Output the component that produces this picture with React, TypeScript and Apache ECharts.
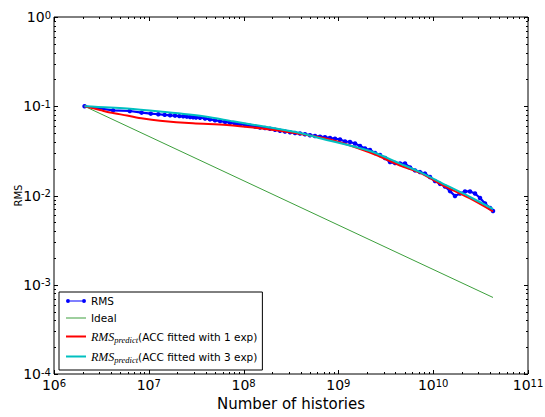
import React, { useEffect, useRef } from 'react';
import * as echarts from 'echarts';

// ---- data ----
const rmsHistories = [
  2.1e6, 4.2e6, 6.3e6, 8.4e6, 1.05e7, 1.26e7, 1.47e7, 1.68e7, 1.89e7, 2.1e7, 2.31e7, 2.52e7, 2.73e7, 2.94e7, 3.15e7,
  3.47e7, 3.92e7, 4.42e7, 4.99e7, 5.64e7, 6.37e7, 7.19e7, 8.12e7, 9.16e7, 1.035e8, 1.168e8, 1.319e8, 1.489e8,
  1.681e8, 1.899e8, 2.144e8, 2.421e8, 2.733e8, 3.087e8, 3.485e8, 3.935e8, 4.443e8, 5.017e8, 5.665e8, 6.396e8,
  7.222e8, 8.154e8, 9.207e8, 1.04e9, 1.174e9, 1.325e9, 1.497e9, 1.69e9, 1.908e9, 2.154e9, 2.433e9, 2.747e9,
  3.101e9, 3.502e9, 3.954e9, 4.465e9, 5.041e9, 5.692e9, 6.427e9, 7.257e9, 8.194e9, 9.252e9, 1.045e10, 1.18e10,
  1.332e10, 1.504e10, 1.698e10, 1.918e10, 2.165e10, 2.445e10, 2.761e10, 3.117e10, 3.52e10, 3.974e10, 4.274e10,
];
const rmsValues = [
  0.1, 0.09, 0.0885, 0.0848, 0.0826, 0.0813, 0.0801, 0.0792, 0.0785, 0.0776, 0.0771, 0.0765, 0.0758, 0.0752, 0.0748,
  0.0744, 0.0729, 0.0712, 0.0698, 0.0682, 0.0668, 0.0654, 0.0639, 0.0628, 0.0617, 0.0604, 0.0592, 0.0579,
  0.0571, 0.0559, 0.0545, 0.0532, 0.0521, 0.0511, 0.0502, 0.0495, 0.0485, 0.0474, 0.0464, 0.0456,
  0.045, 0.0441, 0.0433, 0.0424, 0.0403, 0.0398, 0.0382, 0.0359, 0.0336, 0.0323, 0.0299, 0.0284,
  0.0263, 0.0237, 0.0231, 0.0228, 0.0228, 0.0206, 0.0191, 0.0183, 0.0176, 0.0161, 0.0145, 0.0135,
  0.0126, 0.0112, 0.00987, 0.01053, 0.0111, 0.0111, 0.01053, 0.00938, 0.00813, 0.00724, 0.0067,
];

const idealHistories = [2.1e6, 4.274e10];
const idealValues = [0.1, 7.2e-4];

const fit1Histories = [
  2.1e6, 3.06e6, 3.9e6, 5.89e6, 8.69e6, 1.313e7, 2.926e7, 6.68e7, 1.489e8, 3.32e8, 8.15e8, 2.154e9, 4.465e9,
  7.26e9, 1.398e10, 2.445e10, 4.274e10,
];
const fit1Values = [
  0.1, 0.0908, 0.0851, 0.0788, 0.0729, 0.0689, 0.0644, 0.0617, 0.0566, 0.0505, 0.0424, 0.0303, 0.0217,
  0.0179, 0.0123, 0.00926, 0.00662,
];

const fit3Histories = [
  2.1e6, 5.89e6, 1.313e7, 3.92e7, 7.73e7, 1.765e8, 3.935e8, 6.396e8, 2.154e9, 4.465e9, 7.257e9, 1.398e10,
  2.445e10, 4.274e10,
];
const fit3Values = [
  0.1, 0.0944, 0.0873, 0.0768, 0.0678, 0.0585, 0.0502, 0.0438, 0.0315, 0.0228, 0.0183, 0.0129, 0.00962, 0.00706,
];

const seriesNames = [
  'RMS',
  'Ideal',
  'RMS_predict(ACC fitted with 1 exp)',
  'RMS_predict(ACC fitted with 3 exp)',
];

// axis structure (decade exponents for tick labels, minor tick multipliers)
const xExponents = [6, 7, 8, 9, 10, 11];
const yExponents = [-4, -3, -2, -1, 0];
const minorMultipliers = [2, 3, 4, 5, 6, 7, 8, 9];

const X_MIN = 1e6;
const X_MAX = 1e11;
const Y_MIN = 1e-4;
const Y_MAX = 1;

function zip(a: number[], b: number[]) {
  return a.map((v, i) => [v, b[i]]);
}

export default function App() {
  const ref = useRef<HTMLDivElement>(null);

  useEffect(() => {
    const chart = echarts.init(ref.current!, undefined, { renderer: 'svg' });

    const xTicks: number[][] = [];
    xExponents.forEach((e, i) => {
      xTicks.push([Math.pow(10, e), Y_MIN, 4]);
      if (i < xExponents.length - 1) {
        minorMultipliers.forEach((m) => xTicks.push([m * Math.pow(10, e), Y_MIN, 2]));
      }
    });
    const yTicks: number[][] = [];
    yExponents.forEach((e, i) => {
      yTicks.push([X_MIN, Math.pow(10, e), 4]);
      if (i < yExponents.length - 1) {
        minorMultipliers.forEach((m) => yTicks.push([X_MIN, m * Math.pow(10, e), 2]));
      }
    });

    const powLabel = (value: number) => {
      const exp = Math.round(Math.log10(value));
      return `{b|10}{s|${exp}}`;
    };
    const labelRich = {
      b: { fontFamily: 'DejaVu Sans', fontSize: 14, lineHeight: 14, verticalAlign: 'bottom', color: '#000' },
      s: { fontFamily: 'DejaVu Sans', fontSize: 10, lineHeight: 10, verticalAlign: 'top', color: '#000' },
    };

    const option: any = {
      animation: false,
      backgroundColor: '#fff',
      grid: {
        left: 54,
        top: 17,
        right: 17,
        bottom: 43,
        containLabel: false,
        outerBoundsMode: 'none',
        show: true,
        borderColor: '#000',
        borderWidth: 1,
        backgroundColor: 'transparent',
      },
      xAxis: {
        type: 'log',
        logBase: 10,
        min: X_MIN,
        max: X_MAX,
        splitNumber: 5,
        name: 'Number of histories',
        nameLocation: 'middle',
        nameGap: 22,
        nameMoveOverlap: false,
        nameTextStyle: { fontFamily: 'DejaVu Sans', fontSize: 15, color: '#000' },
        axisLine: { show: false },
        axisTick: { show: false },
        splitLine: { show: false },
        minorTick: { show: false },
        axisLabel: {
          margin: 4,
          showMinLabel: true,
          showMaxLabel: true,
          formatter: powLabel,
          rich: labelRich,
          lineHeight: 18,
        },
      },
      yAxis: {
        type: 'log',
        logBase: 10,
        min: Y_MIN,
        max: Y_MAX,
        splitNumber: 4,
        name: 'RMS',
        nameLocation: 'middle',
        nameGap: 31,
        nameMoveOverlap: false,
        nameTextStyle: { fontFamily: 'DejaVu Sans', fontSize: 10, color: '#000' },
        axisLine: { show: false },
        axisTick: { show: false },
        splitLine: { show: false },
        minorTick: { show: false },
        axisLabel: {
          margin: 3,
          showMinLabel: true,
          showMaxLabel: true,
          formatter: powLabel,
          rich: labelRich,
          lineHeight: 18,
        },
      },
      legend: {
        orient: 'vertical',
        left: 59,
        top: 292,
        padding: [3, 5, 6, 7],
        itemGap: 5,
        itemWidth: 20,
        itemHeight: 4,
        itemTextGap: 7,
        backgroundColor: '#fff',
        borderColor: '#000',
        borderWidth: 1,
        borderRadius: 0,
        selectedMode: false,
        symbolKeepAspect: true,
        textStyle: {
          fontFamily: 'DejaVu Sans',
          fontSize: 10.5,
          lineHeight: 12,
          color: '#000',
          rich: {
            n: { fontFamily: 'DejaVu Sans', fontSize: 10.5, lineHeight: 15, verticalAlign: 'middle', color: '#000' },
            m: {
              fontFamily: 'Liberation Serif',
              fontStyle: 'italic',
              fontSize: 12,
              lineHeight: 15,
              verticalAlign: 'middle',
              color: '#000',
            },
            p: {
              fontFamily: 'Liberation Serif',
              fontStyle: 'italic',
              fontSize: 8.5,
              lineHeight: 8,
              verticalAlign: 'bottom',
              color: '#000',
            },
          },
        },
        formatter: (name: string) => {
          if (name.startsWith('RMS_predict')) {
            const rest = name.slice('RMS_predict'.length);
            return `{m|RMS}{p|predict}{n|${rest}}`;
          }
          return name;
        },
        data: [
          {
            name: seriesNames[0],
            icon:
              'path://M4,1.5 L16,1.5 L16,2.5 L4,2.5 Z M0,2 A2,2 0 1,0 4,2 A2,2 0 1,0 0,2 Z M16,2 A2,2 0 1,0 20,2 A2,2 0 1,0 16,2 Z',
          },
          { name: seriesNames[1], icon: 'path://M0,0 L20,0 L20,1 L0,1 Z' },
          { name: seriesNames[2], icon: 'path://M0,0 L20,0 L20,2 L0,2 Z' },
          { name: seriesNames[3], icon: 'path://M0,0 L20,0 L20,2 L0,2 Z' },
        ],
      },
      series: [
        {
          name: seriesNames[0],
          type: 'line',
          data: zip(rmsHistories, rmsValues),
          symbol: 'circle',
          symbolSize: 4.5,
          showSymbol: true,
          color: '#0000ff',
          itemStyle: { color: '#0000ff' },
          lineStyle: { color: '#0000ff', width: 2.2 },
          z: 2,
        },
        {
          name: seriesNames[1],
          type: 'line',
          data: zip(idealHistories, idealValues),
          symbol: 'none',
          showSymbol: false,
          color: '#3c9f3c',
          lineStyle: { color: '#3c9f3c', width: 1 },
          z: 3,
        },
        {
          name: seriesNames[2],
          type: 'line',
          data: zip(fit1Histories, fit1Values),
          symbol: 'none',
          showSymbol: false,
          smooth: 0.3,
          color: '#ff0000',
          lineStyle: { color: '#ff0000', width: 2 },
          z: 4,
        },
        {
          name: seriesNames[3],
          type: 'line',
          data: zip(fit3Histories, fit3Values),
          symbol: 'none',
          showSymbol: false,
          smooth: 0.3,
          color: '#00c0c0',
          lineStyle: { color: '#00c0c0', width: 2 },
          z: 5,
        },
        {
          type: 'custom',
          silent: true,
          clip: false,
          z: 6,
          data: xTicks,
          encode: { x: 0, y: 1 },
          renderItem: (_params: any, api: any) => {
            const v = api.value(0);
            const len = api.value(2);
            const b = api.coord([v, Y_MIN]);
            const t = api.coord([v, Y_MAX]);
            const x = Math.round(b[0]) + 0.5;
            return {
              type: 'group',
              children: [
                { type: 'line', shape: { x1: x, y1: b[1], x2: x, y2: b[1] - len }, style: { stroke: '#000', lineWidth: 1 } },
                { type: 'line', shape: { x1: x, y1: t[1], x2: x, y2: t[1] + len }, style: { stroke: '#000', lineWidth: 1 } },
              ],
            };
          },
        },
        {
          type: 'custom',
          silent: true,
          clip: false,
          z: 6,
          data: yTicks,
          encode: { x: 0, y: 1 },
          renderItem: (_params: any, api: any) => {
            const v = api.value(1);
            const len = api.value(2);
            const l = api.coord([X_MIN, v]);
            const r = api.coord([X_MAX, v]);
            const y = Math.round(l[1]) + 0.5;
            return {
              type: 'group',
              children: [
                { type: 'line', shape: { x1: l[0], y1: y, x2: l[0] + len, y2: y }, style: { stroke: '#000', lineWidth: 1 } },
                { type: 'line', shape: { x1: r[0], y1: y, x2: r[0] - len, y2: y }, style: { stroke: '#000', lineWidth: 1 } },
              ],
            };
          },
        },
      ],
    };

    chart.setOption(option);
    return () => chart.dispose();
  }, []);

  return (
    <div
      ref={ref}
      style={{ position: 'fixed', left: 0, top: 0, width: 545, height: 417, background: '#fff' }}
    />
  );
}
